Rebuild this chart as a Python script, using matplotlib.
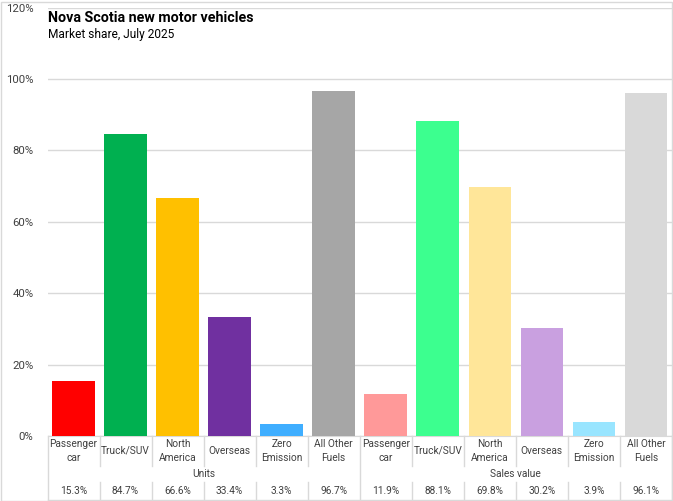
import matplotlib
matplotlib.use("Agg")
import matplotlib.pyplot as plt
from matplotlib.patches import Rectangle

categories = ["Passenger\ncar", "Truck/SUV", "North\nAmerica", "Overseas", "Zero\nEmission", "All Other\nFuels"]
groups = ["Units", "Sales value"]
units_values = [15.3, 84.7, 66.6, 33.4, 3.3, 96.7]
sales_values = [11.9, 88.1, 69.8, 30.2, 3.9, 96.1]
units_colors = ["#FF0000", "#00B050", "#FFC000", "#7030A0", "#3FAEFF", "#A6A6A6"]
sales_colors = ["#FF9999", "#3CFF8F", "#FFE699", "#C9A0E0", "#99E5FF", "#D9D9D9"]
yticks = [0, 20, 40, 60, 80, 100, 120]

plt.rcParams['font.family'] = ['Roboto', 'DejaVu Sans']

W, H = 673, 501
fig = plt.figure(figsize=(W/100, H/100), dpi=100)
left, right, top, bottom = 47.5, 672, 7.6, 436
ax = fig.add_axes([left/W, 1-bottom/H, (right-left)/W, (bottom-top)/H])

values = units_values + sales_values
colors = units_colors + sales_colors
labels = categories + categories
x = list(range(len(values)))
ax.bar(x, values, width=0.82, color=colors, zorder=3)
ax.set_xlim(-0.5, len(values)-0.5)
ax.set_ylim(0, 120)
ax.set_yticks(yticks)
ax.set_yticklabels([f"{v}%" for v in yticks], fontsize=8.2, color="#404040")
ax.yaxis.grid(True, color="#D9D9D9", linewidth=1, zorder=0)
ax.tick_params(axis='y', length=0, pad=10)
ax.set_xticks([])
for s in ["top", "right", "left"]:
    ax.spines[s].set_visible(False)
ax.spines["bottom"].set_color("#D9D9D9")

gc = "#D9D9D9"
ppu = (bottom-top)/120.0
def py(p):
    return -(p-bottom)/ppu

fs = 7.3
for i, lab in enumerate(labels):
    ax.text(i, py(451), lab, ha="center", va="center", fontsize=fs, color="#404040",
            linespacing=1.45, clip_on=False)
for g, name in enumerate(groups):
    ax.text(g*6+2.5, py(474), name, ha="center", va="center", fontsize=fs, color="#404040", clip_on=False)
for i, v in enumerate(values):
    ax.text(i, py(490.5), f"{v:.1f}%", ha="center", va="center", fontsize=fs, color="#404040", clip_on=False)

n = len(values)
for b in range(n+1):
    xb = b - 0.5
    if b in (0, 6, 12):
        ax.plot([xb, xb], [0, py(500)], color=gc, lw=1, clip_on=False)
    else:
        ax.plot([xb, xb], [0, py(466)], color=gc, lw=1, clip_on=False)
        ax.plot([xb, xb], [py(482), py(500)], color=gc, lw=1, clip_on=False)
ax.plot([-0.5, n-0.5], [py(499.5), py(499.5)], color=gc, lw=1, clip_on=False)

fig.text(48/W, 1-18/H, "Nova Scotia new motor vehicles", fontsize=10.3, fontweight="bold",
         color="#000000", ha="left", va="center")
fig.text(48/W, 1-34.5/H, "Market share, July 2025", fontsize=8.6, color="#000000", ha="left", va="center")

fig.patches.append(Rectangle((0.5/W, 0.5/H), (W-1.5)/W, (H-2)/H, transform=fig.transFigure,
                             fill=False, edgecolor="#D9D9D9", lw=1))

fig.savefig("out.png", dpi=100)
